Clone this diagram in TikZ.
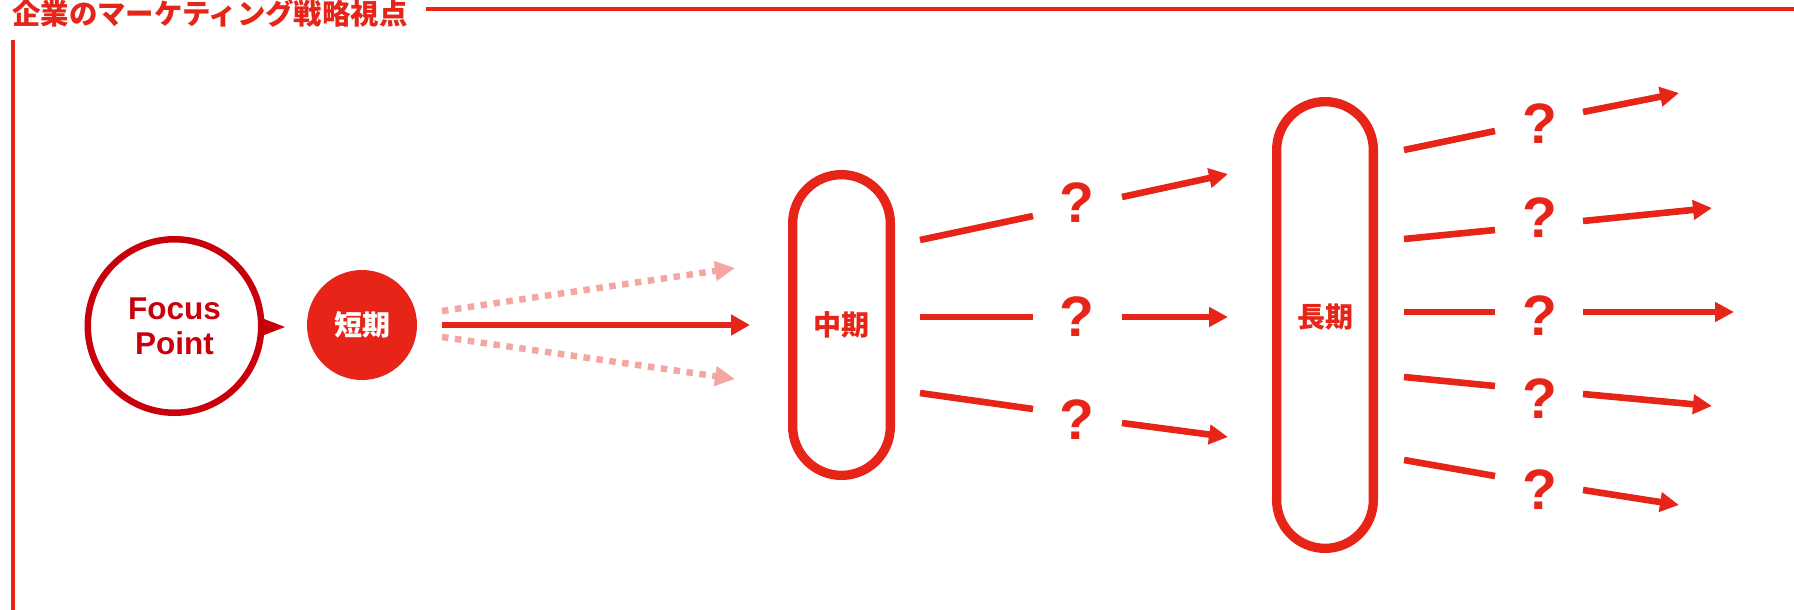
\documentclass[tikz,border=0pt]{standalone}
\usepackage{fontspec}
\setmainfont{Liberation Sans}
\newfontfamily\cjk{Noto Sans CJK JP}
\usetikzlibrary{arrows.meta,calc}
\definecolor{mred}{HTML}{E62418}
\definecolor{dred}{HTML}{C8000B}
\definecolor{lred}{HTML}{F4A6A0}
\tikzset{
  conn/.style={mred, line width=6.6pt},
  arr/.style={conn, -{Triangle[length=19pt,width=19pt]}},
  dots/.style={lred, line width=6.5pt, dash pattern=on 6.5pt off 6.5pt, -{Triangle[length=20pt,width=19pt]}},
  jp/.style={font=\cjk\bfseries\fontsize{28}{28}\selectfont},
  pill/.style={draw=mred, line width=9.3pt, inner sep=0pt, text=mred, jp},
  qmark/.style={inner sep=0pt, text=mred, font=\bfseries\fontsize{57}{57}\selectfont},
}
\begin{document}
\begin{tikzpicture}[x=1pt,y=-1pt]
\useasboundingbox (0,0) rectangle (1794,610);
% title and frame
\node[anchor=west, inner sep=0pt, text=mred, font=\cjk\bfseries\fontsize{28.4}{28.4}\selectfont] (title) at (12,13) {企業のマーケティング戦略視点};
\coordinate (ts) at (426,9);
\coordinate (te) at (1794,9);
\draw[mred, line width=4.6pt] (ts) -- (te);
\coordinate (vs) at (13,40);
\coordinate (ve) at (13,610);
\draw[mred, line width=4.6pt] (vs) -- (ve);
% focus point
\node[circle, draw=dred, line width=6.5pt, minimum size=173.5pt, inner sep=0pt, align=center, text=dred,
      font=\bfseries\fontsize{31.5}{35}\selectfont] (focus) at (174.5,326) {Focus\\Point};
\fill[dred] (259,317) -- (285,327) -- (259,337) -- cycle;
% short term
\node[circle, fill=mred, minimum size=110pt, inner sep=0pt, text=white, jp] (short) at (362,325) {短期};
\coordinate (s0) at (442,325);
\coordinate (s1) at (442,311);
\coordinate (s2) at (442,337);
\coordinate (e0) at (750,325);
\coordinate (e1) at (735,268);
\coordinate (e2) at (735,379);
\draw[dots] (s1) -- (e1);
\draw[dots] (s2) -- (e2);
\draw[conn, -{Triangle[length=19pt,width=20pt]}] (s0) -- (e0);
% mid term
\node[pill, rounded corners=48.8pt, minimum width=97.7pt, minimum height=300.7pt] (mid) at (841.5,325) {中期};
\foreach \n/\ya/\yb/\yq/\yc/\yd in {1/240/216/203/197/174, 2/317/317/317/317/317, 3/393/409/420/423/437} {
  \coordinate (ma\n) at (920,\ya);
  \coordinate (mb\n) at (1033,\yb);
  \node[qmark] (mq\n) at (1077,\yq) {?};
  \coordinate (mc\n) at (1122,\yc);
  \coordinate (md\n) at (1228,\yd);
  \draw[conn] (ma\n) -- (mb\n);
  \draw[arr] (mc\n) -- (md\n);
}
% long term
\node[pill, rounded corners=48.3pt, minimum width=96.7pt, minimum height=446.7pt,
      label={[jp, text=mred, yshift=8pt]center:長期}] (long) at (1325,325) {};
\foreach \n/\ya/\yb/\yq/\yc/\xd/\yd in {1/150/131/124/112/1679/93, 2/239/230/218/221/1712/208, 3/312/312/316/312/1734/312, 4/377/386/399/394/1712/406, 5/460/476/490/490/1679/505} {
  \coordinate (la\n) at (1404,\ya);
  \coordinate (lb\n) at (1495,\yb);
  \node[qmark] (lq\n) at (1540,\yq) {?};
  \coordinate (lc\n) at (1583,\yc);
  \coordinate (ld\n) at (\xd,\yd);
  \draw[conn] (la\n) -- (lb\n);
  \draw[arr] (lc\n) -- (ld\n);
}
\end{tikzpicture}
\end{document}
